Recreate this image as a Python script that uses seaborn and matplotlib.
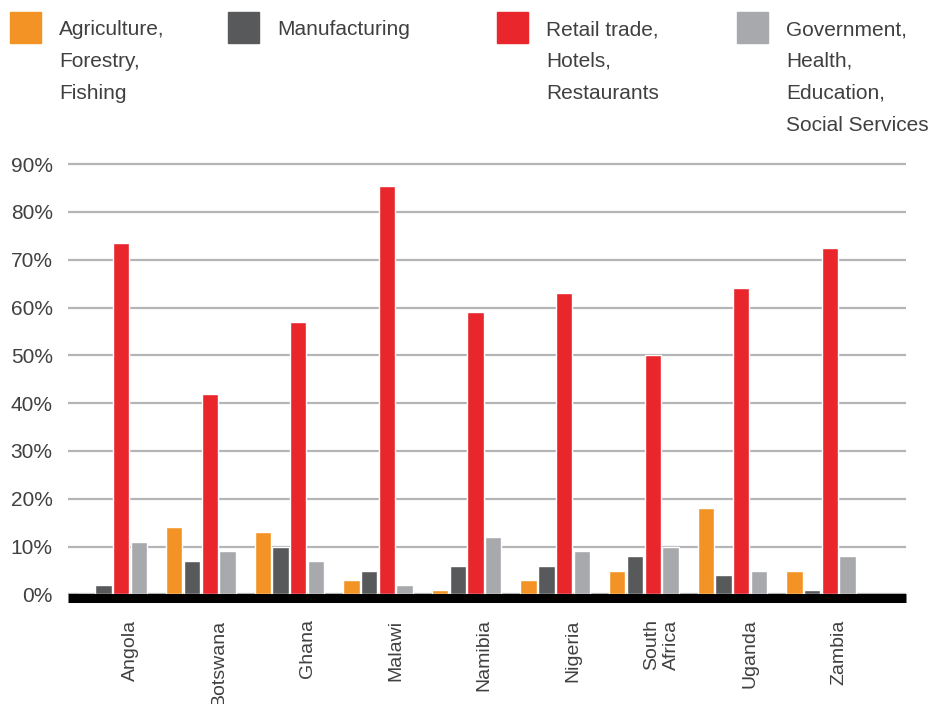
import matplotlib
matplotlib.use("Agg")
import matplotlib.pyplot as plt
import seaborn as sns
import pandas as pd
from matplotlib.patches import Rectangle
from matplotlib.transforms import ScaledTranslation
from matplotlib.ticker import FuncFormatter

countries = ["Angola", "Botswana", "Ghana", "Malawi", "Namibia", "Nigeria",
             "South\nAfrica", "Uganda", "Zambia"]
sectors = ["Agriculture,\nForestry,\nFishing", "Manufacturing",
           "Retail trade,\nHotels,\nRestaurants",
           "Government,\nHealth,\nEducation,\nSocial Services"]
agriculture = [0, 14, 13, 3, 1, 3, 5, 18, 5]
manufacturing = [2, 7, 10, 5, 6, 6, 8, 4, 1]
retail = [73.5, 42, 57, 85.5, 59, 63, 50, 64, 72.5]
government = [11, 9, 7, 2, 12, 9, 10, 5, 8]
yticks = [0, 10, 20, 30, 40, 50, 60, 70, 80, 90]
colors = ["#F39325", "#58595B", "#E8262C", "#A7A9AC"]

rows = []
for s, vals in zip(sectors, [agriculture, manufacturing, retail, government]):
    for c, v in zip(countries, vals):
        rows.append({"country": c, "sector": s, "value": v})
df = pd.DataFrame(rows)

sns.set_style("white")
plt.rcParams["font.family"] = ["Liberation Sans", "DejaVu Sans"]
txt = "#404040"

W, H = 929, 704
fig = plt.figure(figsize=(W / 100, H / 100), dpi=100)
x0, x1, y0 = 68, 906, 594.4
ppu = 4.78
ymax = 92
ytop = y0 - ymax * ppu
ax = fig.add_axes([x0 / W, 1 - y0 / H, (x1 - x0) / W, (y0 - ytop) / H])

sns.barplot(data=df, x="country", y="value", hue="sector", order=countries,
            hue_order=sectors, palette=colors, saturation=1, width=0.8,
            gap=0.08, legend=False, ax=ax, zorder=3)

ax.set_ylim(0, ymax)
ax.set_xlim(-0.5, 8.96)
ax.set_yticks(yticks)
ax.yaxis.set_major_formatter(FuncFormatter(lambda v, p: f"{v:.0f}%"))
ax.grid(axis="y", color="#b5b5b5", lw=1.6, zorder=0)
ax.grid(axis="x", visible=False)
for sp in ax.spines.values():
    sp.set_visible(False)
ax.set_xlabel("")
ax.set_ylabel("")
ax.tick_params(axis="y", length=0, pad=11, labelsize=15, labelcolor=txt)
ax.set_xticks([i + 0.2 for i in range(len(countries))])
ax.set_xticklabels(countries, rotation=90, fontsize=14, color=txt)
ax.tick_params(axis="x", length=0, pad=18)

trans = ax.get_yaxis_transform() + ScaledTranslation(0, -3.6 / 100, fig.dpi_scale_trans)
ax.plot([0, 1], [0, 0], transform=trans, color="black", lw=6.5,
        solid_capstyle="butt", clip_on=False, zorder=5)

# legend
sq_x = [10, 228, 497, 737]
tx_x = [59, 277, 546, 786]
for sx, tx, lab, col in zip(sq_x, tx_x, sectors, colors):
    fig.patches.append(Rectangle((sx / W, 1 - 43 / H), 31 / W, 31 / H,
                                 transform=fig.transFigure, color=col))
    fig.text(tx / W, 1 - 20 / H, lab, ha="left", va="top", fontsize=15,
             color=txt, linespacing=1.86)

fig.savefig("out.png", dpi=100)
